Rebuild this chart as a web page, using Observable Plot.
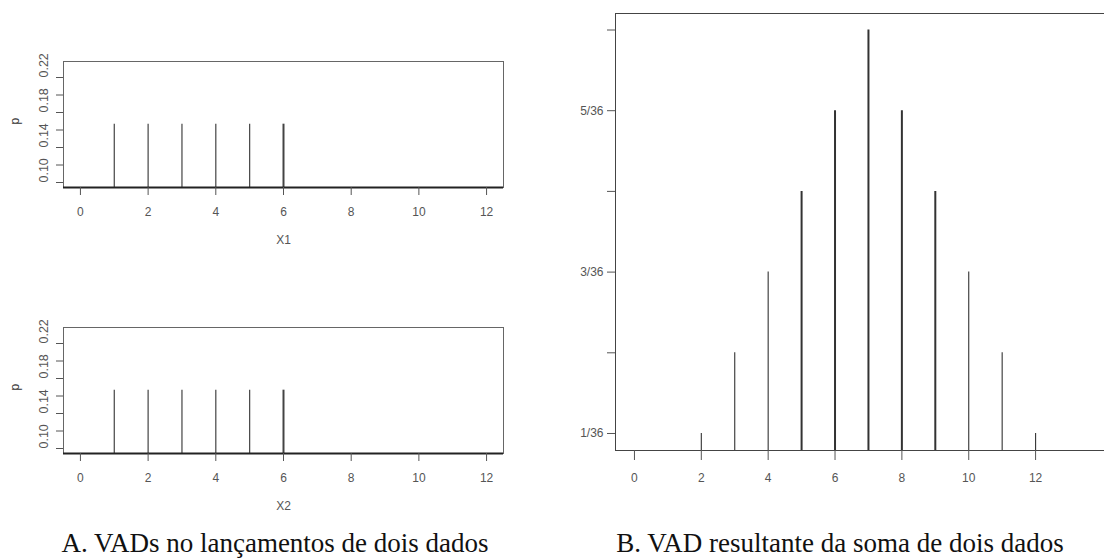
<!DOCTYPE html>
<html>
<head>
<meta charset="utf-8">
<script src="https://cdn.jsdelivr.net/npm/d3@7"></script>
<script src="https://cdn.jsdelivr.net/npm/@observablehq/plot@0.6"></script>
<style>
  html, body { margin: 0; padding: 0; background: white; }
  #root { position: relative; width: 1104px; height: 559px; overflow: hidden; background: white; }
  .panel { position: absolute; }
  .caption { position: absolute; font-family: "Liberation Serif", "Times New Roman", serif; font-size: 27px; line-height: 27px; color: #111; white-space: nowrap; text-align: center; }
</style>
</head>
<body>
<div id="root"></div>
<script>
// ---- data ----
const dieFaces = [1, 2, 3, 4, 5, 6];
const dieProbs = [1/6, 1/6, 1/6, 1/6, 1/6, 1/6];
const sumValues = [2, 3, 4, 5, 6, 7, 8, 9, 10, 11, 12];
const sumCounts = [1, 2, 3, 4, 5, 6, 5, 4, 3, 2, 1];   // out of 36
const xTicks = [0, 2, 4, 6, 8, 10, 12];
const leftYTicks = [0.10, 0.12, 0.14, 0.16, 0.18, 0.20, 0.22];
const leftYLabels = [0.10, 0.14, 0.18, 0.22];
const rightYTicks = [1, 2, 3, 4, 5, 6];         // in 36ths
const rightYLabeled = [1, 3, 5];
const captionA = "A. VADs no lançamentos de dois dados";
const captionB = "B. VAD resultante da soma de dois dados";

const dieData = dieFaces.map((x, i) => ({x, p: dieProbs[i]}));
const sumData = sumValues.map((x, i) => ({x, p: sumCounts[i] / 36}));

const root = document.getElementById("root");
const font = "'Liberation Sans', Arial, sans-serif";

function diePanel(xlabel, top) {
  const yDom = [0.0943, 0.2383];
  const chart = Plot.plot({
    width: 520, height: 262,
    marginLeft: 63, marginRight: 17, marginTop: 61, marginBottom: 75,
    x: {domain: [-0.5, 12.5]},
    y: {domain: yDom},
    style: {fontFamily: font, background: "white", color: "#555", fontSize: "12px", overflow: "visible"},
    marks: [
      Plot.frame({stroke: "#666"}),
      Plot.ruleX(dieData, {x: "x", y1: 0, y2: "p", clip: true, stroke: "#444",
        strokeWidth: d => d.x === 6 ? 2 : 1.2}),
      Plot.ruleY([yDom[0]], {stroke: "#222", strokeWidth: 2}),
      Plot.axisX(xTicks, {tickSize: 8, tickPadding: 12, label: null, fontSize: 12}),
      Plot.axisY(leftYTicks, {tickSize: 7, tickFormat: () => "", label: null}),
      Plot.text(leftYLabels, {y: d => d, text: d => d.toFixed(2), frameAnchor: "left", dx: -20, rotate: -90, fontSize: 12.5, fill: "#555"}),
      Plot.text(["p"], {frameAnchor: "left", dx: -48, rotate: -90, fontSize: 12, fill: "#333"}),
      Plot.text([xlabel], {frameAnchor: "bottom", dy: 56, fontSize: 12, fill: "#555"})
    ]
  });
  chart.classList.add("panel");
  chart.style.left = "0px";
  chart.style.top = top + "px";
  root.appendChild(chart);
}

diePanel("X1", 0);
diePanel("X2", 266);

// right panel
{
  const yDom = [0.7893 / 36, 6.2045 / 36];
  const chart = Plot.plot({
    width: 560, height: 559,
    marginLeft: 55, marginRight: 0, marginTop: 13, marginBottom: 109,
    x: {domain: [-0.567, 14.54]},
    y: {domain: yDom},
    style: {fontFamily: font, background: "white", color: "#555", fontSize: "12px", overflow: "visible"},
    marks: [
      Plot.frame({stroke: "#444"}),
      Plot.ruleX(sumData, {x: "x", y1: 0, y2: "p", clip: true, stroke: "#333",
        strokeWidth: d => (d.x >= 5 && d.x <= 9) ? 2 : 1.1}),
      Plot.axisX(xTicks, {tickSize: 10, tickPadding: 13, label: null, fontSize: 12}),
      Plot.axisY(rightYTicks.map(k => k / 36), {tickSize: 8, tickFormat: () => "", label: null}),
      Plot.text(rightYLabeled, {y: k => k / 36, text: k => k + "/36", frameAnchor: "left", dx: -12, textAnchor: "end", fontSize: 12, fill: "#555"})
    ]
  });
  chart.classList.add("panel");
  chart.style.left = "560px";
  chart.style.top = "0px";
  root.appendChild(chart);
}

function caption(text, cx) {
  const d = document.createElement("div");
  d.className = "caption";
  d.textContent = text;
  d.style.left = (cx - 300) + "px";
  d.style.width = "600px";
  d.style.top = "530px";
  root.appendChild(d);
}
caption(captionA, 275);
caption(captionB, 840);
</script>
</body>
</html>
